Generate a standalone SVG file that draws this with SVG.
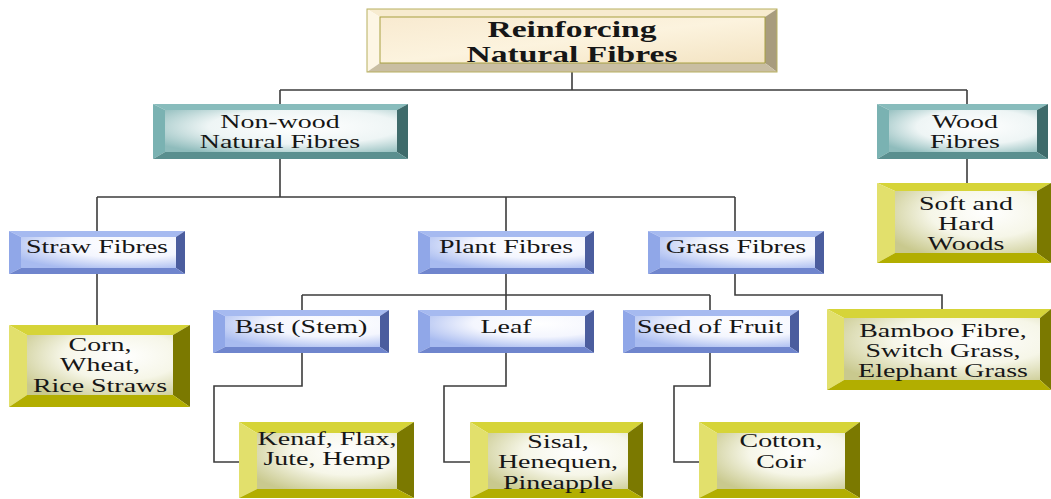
<svg xmlns="http://www.w3.org/2000/svg" xmlns:xlink="http://www.w3.org/1999/xlink" width="1051" height="499" viewBox="0 0 1051 499">
<style>
.t{font-family:"Liberation Serif","Times New Roman",serif;font-size:19px;fill:#161616;text-anchor:middle}
.tb{font-family:"Liberation Serif","Times New Roman",serif;font-size:23px;font-weight:bold;fill:#161616;text-anchor:middle}
.cn{fill:none;stroke:#3c3c3c;stroke-width:1.6}
.cT{fill:#f7ebcf}.cL{fill:#fdf6e5}.cR{fill:#a89c7e}.cB{fill:#c9bea2}
.gT{fill:#88bcbc}.gL{fill:#7ab2b2}.gR{fill:#3f6b6b}.gB{fill:#5a8f8f}
.bT{fill:#a6baf0}.bL{fill:#90a7e8}.bR{fill:#4b5d9e}.bB{fill:#6f85cd}
.yT{fill:#d6d438}.yL{fill:#e2e06c}.yR{fill:#7b7900}.yB{fill:#b2ae00}
</style>
<defs>
<linearGradient id="fc" x1="0" y1="0" x2="1" y2="1">
<stop offset="0" stop-color="#f8ead0"/><stop offset="0.5" stop-color="#fcf3de"/><stop offset="1" stop-color="#f3e3c2"/>
</linearGradient>
<radialGradient id="fg" cx="0.6" cy="0.4" r="0.75">
<stop offset="0" stop-color="#ffffff"/><stop offset="0.55" stop-color="#eef5f5"/><stop offset="1" stop-color="#8fbcbc"/>
</radialGradient>
<radialGradient id="fb" cx="0.7" cy="0.25" r="0.85">
<stop offset="0" stop-color="#ffffff"/><stop offset="0.5" stop-color="#f4f6fe"/><stop offset="1" stop-color="#a8bbf0"/>
</radialGradient>
<radialGradient id="fy" cx="0.65" cy="0.35" r="0.8">
<stop offset="0" stop-color="#ffffff"/><stop offset="0.5" stop-color="#f6f6e8"/><stop offset="1" stop-color="#c9c98e"/>
</radialGradient>
<g id="bbox">
<polygon class="bT" points="0,0 176,0 167,6 12,6"/>
<polygon class="bL" points="0,0 12,6 12,37 0,43"/>
<polygon class="bR" points="176,0 176,43 167,37 167,6"/>
<polygon class="bB" points="0,43 12,37 167,37 176,43"/>
<rect x="12" y="6" width="155" height="31" fill="url(#fb)"/>
</g>
</defs>
<rect width="1051" height="499" fill="#ffffff"/>

<g id="connectors">
<path class="cn" d="M572,72 V90 M280,90 H967 M280,90 V104 M967,90 V104"/>
<path class="cn" d="M280,159 V197 M97,197 H735 M97,197 V231 M506,197 V231 M735,197 V231"/>
<path class="cn" d="M967,159 V183"/>
<path class="cn" d="M97,274 V325"/>
<path class="cn" d="M506,274 V295 M302,295 H710 M302,295 V310 M506,295 V310 M710,295 V310"/>
<path class="cn" d="M735,274 V295 H942 V309"/>
<path class="cn" d="M302,352 V386 H214 V462 H239"/>
<path class="cn" d="M506,352 V386 H444 V462 H470"/>
<path class="cn" d="M710,352 V386 H674 V462 H699"/>
</g>

<g id="n-root">
<polygon class="cT" points="367,9 777,9 765,17 380,17"/>
<polygon class="cL" points="367,9 380,17 380,63 367,72"/>
<polygon class="cR" points="777,9 777,72 765,63 765,17"/>
<polygon class="cB" points="367,72 380,63 765,63 777,72"/>
<rect x="380" y="17" width="385" height="46" fill="url(#fc)" stroke="#a8a040" stroke-width="1"/>
<rect x="367" y="9" width="410" height="63" fill="none" stroke="#b8b060" stroke-width="1"/>
<text class="tb" transform="translate(572,0) scale(1.46,1)"><tspan x="0" y="37">Reinforcing</tspan><tspan x="0" y="62">Natural Fibres</tspan></text>
</g>

<g id="n-nonwood">
<polygon class="gT" points="153,104 408,104 397,110 165,110"/>
<polygon class="gL" points="153,104 165,110 165,152 153,159"/>
<polygon class="gR" points="408,104 408,159 397,152 397,110"/>
<polygon class="gB" points="153,159 165,152 397,152 408,159"/>
<rect x="165" y="110" width="232" height="42" fill="url(#fg)"/>
<text class="t" transform="translate(280,0) scale(1.47,1)"><tspan x="0" y="128">Non-wood</tspan><tspan x="0" y="148">Natural Fibres</tspan></text>
</g>

<g id="n-wood">
<polygon class="gT" points="877,104 1048,104 1037,110 889,110"/>
<polygon class="gL" points="877,104 889,110 889,152 877,159"/>
<polygon class="gR" points="1048,104 1048,159 1037,152 1037,110"/>
<polygon class="gB" points="877,159 889,152 1037,152 1048,159"/>
<rect x="889" y="110" width="148" height="42" fill="url(#fg)"/>
<text class="t" transform="translate(965,0) scale(1.47,1)"><tspan x="0" y="128">Wood</tspan><tspan x="0" y="148">Fibres</tspan></text>
</g>

<g id="n-straw">
<use xlink:href="#bbox" x="9" y="231"/>
<text class="t" transform="translate(97,253) scale(1.47,1)" x="0" y="0">Straw Fibres</text>
</g>
<g id="n-plant">
<use xlink:href="#bbox" x="418" y="231"/>
<text class="t" transform="translate(506,253) scale(1.47,1)">Plant Fibres</text>
</g>
<g id="n-grass">
<use xlink:href="#bbox" x="648" y="231"/>
<text class="t" transform="translate(736,253) scale(1.47,1)">Grass Fibres</text>
</g>
<g id="n-bast">
<use xlink:href="#bbox" x="213" y="310"/>
<text class="t" transform="translate(301,333) scale(1.47,1)">Bast (Stem)</text>
</g>
<g id="n-leaf">
<use xlink:href="#bbox" x="418" y="310"/>
<text class="t" transform="translate(506,333) scale(1.47,1)">Leaf</text>
</g>
<g id="n-seed">
<use xlink:href="#bbox" x="623" y="310"/>
<text class="t" transform="translate(710,333) scale(1.47,1)">Seed of Fruit</text>
</g>

<g id="n-soft">
<polygon class="yT" points="877,183 1051,183 1037,191 895,191"/>
<polygon class="yL" points="877,183 895,191 895,253 877,263"/>
<polygon class="yR" points="1051,183 1051,263 1037,253 1037,191"/>
<polygon class="yB" points="877,263 895,253 1037,253 1051,263"/>
<rect x="895" y="191" width="142" height="62" fill="url(#fy)"/>
<text class="t" transform="translate(966,0) scale(1.47,1)"><tspan x="0" y="210">Soft and</tspan><tspan x="0" y="230">Hard</tspan><tspan x="0" y="250">Woods</tspan></text>
</g>

<g id="n-corn">
<polygon class="yT" points="9,325 190,325 173,335 27,335"/>
<polygon class="yL" points="9,325 27,335 27,395 9,407"/>
<polygon class="yR" points="190,325 190,407 173,395 173,335"/>
<polygon class="yB" points="9,407 27,395 173,395 190,407"/>
<rect x="27" y="335" width="146" height="60" fill="url(#fy)"/>
<text class="t" transform="translate(100,0) scale(1.47,1)"><tspan x="0" y="351">Corn,</tspan><tspan x="0" y="371">Wheat,</tspan><tspan x="0" y="392">Rice Straws</tspan></text>
</g>

<g id="n-bamboo">
<polygon class="yT" points="827,309 1051,309 1040,318 844,318"/>
<polygon class="yL" points="827,309 844,318 844,380 827,390"/>
<polygon class="yR" points="1051,309 1051,390 1040,380 1040,318"/>
<polygon class="yB" points="827,390 844,380 1040,380 1051,390"/>
<rect x="844" y="318" width="196" height="62" fill="url(#fy)"/>
<text class="t" transform="translate(943,0) scale(1.47,1)"><tspan x="0" y="337">Bamboo Fibre,</tspan><tspan x="0" y="357">Switch Grass,</tspan><tspan x="0" y="377">Elephant Grass</tspan></text>
</g>

<g id="n-kenaf">
<polygon class="yT" points="239,422 414,422 397,433 257,433"/>
<polygon class="yL" points="239,422 257,433 257,489 239,498"/>
<polygon class="yR" points="414,422 414,498 397,489 397,433"/>
<polygon class="yB" points="239,498 257,489 397,489 414,498"/>
<rect x="257" y="433" width="140" height="56" fill="url(#fy)"/>
<text class="t" transform="translate(327,0) scale(1.47,1)"><tspan x="0" y="445">Kenaf, Flax,</tspan><tspan x="0" y="465">Jute, Hemp</tspan></text>
</g>

<g id="n-sisal">
<polygon class="yT" points="470,422 643,422 628,433 488,433"/>
<polygon class="yL" points="470,422 488,433 488,489 470,498"/>
<polygon class="yR" points="643,422 643,498 628,489 628,433"/>
<polygon class="yB" points="470,498 488,489 628,489 643,498"/>
<rect x="488" y="433" width="140" height="56" fill="url(#fy)"/>
<text class="t" transform="translate(558,0) scale(1.47,1)"><tspan x="0" y="448">Sisal,</tspan><tspan x="0" y="468">Henequen,</tspan><tspan x="0" y="489">Pineapple</tspan></text>
</g>

<g id="n-cotton">
<polygon class="yT" points="699,422 860,422 845,433 717,433"/>
<polygon class="yL" points="699,422 717,433 717,489 699,498"/>
<polygon class="yR" points="860,422 860,498 845,489 845,433"/>
<polygon class="yB" points="699,498 717,489 845,489 860,498"/>
<rect x="717" y="433" width="128" height="56" fill="url(#fy)"/>
<text class="t" transform="translate(781,0) scale(1.47,1)"><tspan x="0" y="447">Cotton,</tspan><tspan x="0" y="468">Coir</tspan></text>
</g>
</svg>
